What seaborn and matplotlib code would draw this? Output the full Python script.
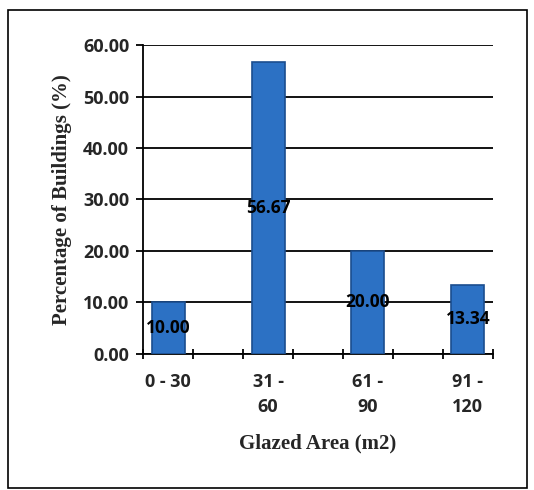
import matplotlib
matplotlib.use("Agg")
import matplotlib.pyplot as plt
import seaborn as sns
import pandas as pd
import numpy as np
from matplotlib.patches import Rectangle

# data
categories = ["0 - 30", "31 -\n60", "61 -\n90", "91 -\n120"]
percentages = [10.00, 56.67, 20.00, 13.34]
label_text = ["10.00", "56.67", "20.00", "13.34"]
y_ticks = [0, 10, 20, 30, 40, 50, 60]

df = pd.DataFrame({"area": categories, "pct": percentages})

sns.set_theme(style="white")
plt.rcParams["font.family"] = ["Open Sans", "DejaVu Sans"]

fig = plt.figure(figsize=(5.34, 4.90), dpi=100)
ax = fig.add_axes([0.268, 0.278, 0.655, 0.630])

sns.barplot(data=df, x="area", y="pct", ax=ax, color="#2c71c4",
            edgecolor="#1b4e8f", linewidth=1.2, width=0.33, saturation=1,
            zorder=3)

# gridlines like excel
ax.set_ylim(0, 60)
ax.set_yticks(y_ticks)
ax.set_yticklabels([f"{t:.2f}" for t in y_ticks], fontsize=13, fontweight="bold")
ax.yaxis.grid(True, color="black", linewidth=1.3, zorder=0)
ax.set_axisbelow(True)
ax.set_xlim(-0.25, len(categories) - 0.75)

ax.set_xticks(range(len(categories)))
ax.set_xticklabels(categories, fontsize=13, fontweight="bold", linespacing=1.45)
ax.tick_params(axis="x", which="major", length=0, pad=14)
ax.set_xticks(np.arange(-0.25, len(categories) - 0.5, 0.5), minor=True)
ax.tick_params(axis="x", which="minor", length=7, width=1.3, direction="inout",
               color="black", bottom=True)
ax.tick_params(axis="y", which="major", length=5, width=1.3, direction="out",
               color="black", pad=5, left=True)

for s in ["top", "right"]:
    ax.spines[s].set_visible(False)
for s in ["left", "bottom"]:
    ax.spines[s].set_color("black")
    ax.spines[s].set_linewidth(1.3)

ax.bar_label(ax.containers[0], labels=label_text, label_type="center",
             fontsize=12.5, fontweight="bold", color="black")

ax.set_xlabel("Glazed Area (m2)", family="Liberation Serif", fontsize=15,
              fontweight="bold", labelpad=13)
ax.set_ylabel("Percentage of Buildings (%)", family="Liberation Serif", fontsize=15,
              fontweight="bold", labelpad=8)

# outer chart border
fig.patches.append(Rectangle((0.015, 0.005), 0.972, 0.975, transform=fig.transFigure,
                             fill=False, edgecolor="black", linewidth=1.2))

fig.savefig("out.png", dpi=100)
